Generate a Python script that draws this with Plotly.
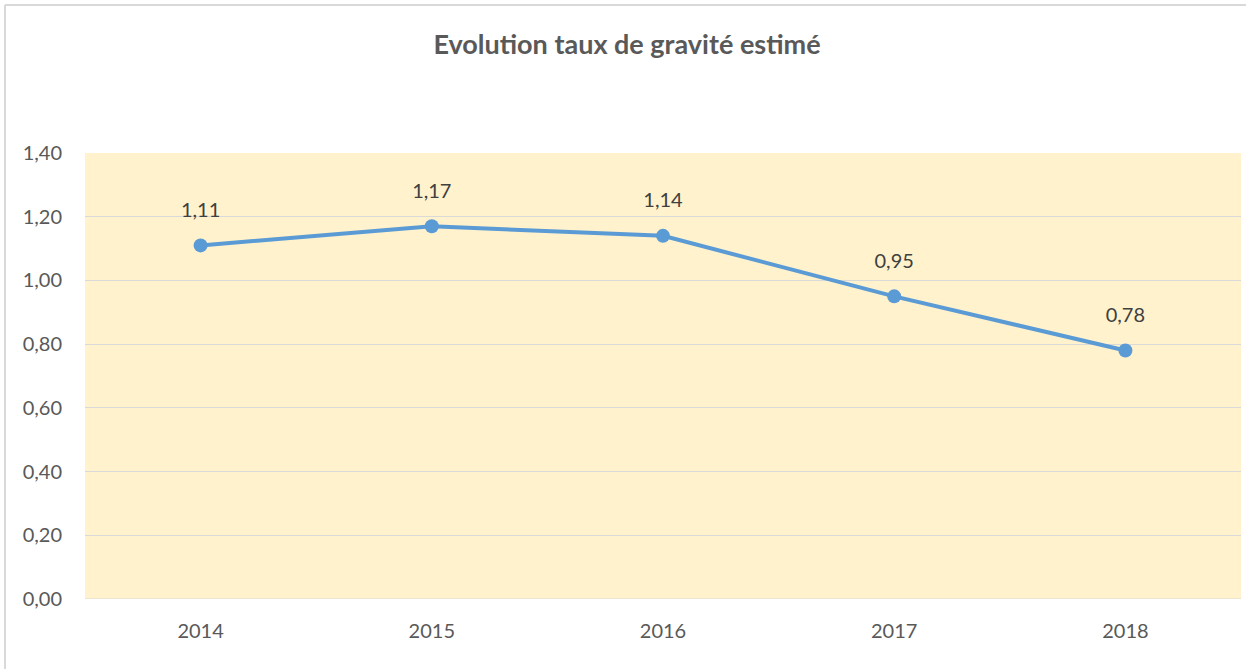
import plotly.graph_objects as go

years = ["2014", "2015", "2016", "2017", "2018"]
taux = [1.11, 1.17, 1.14, 0.95, 0.78]
labels = [f"{v:.2f}".replace(".", ",") for v in taux]
title_text = "Evolution taux de gravité estimé"

W, H = 1246, 669
L, R, T, B = 85, 5, 153, 70
pw, ph = W - L - R, H - T - B
FONT = "Lato, Calibri, sans-serif"

fig = go.Figure()
fig.add_trace(go.Scatter(
    x=years, y=taux, mode="lines+markers",
    line=dict(color="#5B9BD5", width=4),
    marker=dict(color="#5B9BD5", size=14),
    hoverinfo="x+y",
))
# data labels (transparent large markers push labels above the points)
fig.add_trace(go.Scatter(
    x=years, y=taux, mode="markers+text", text=labels,
    textposition="top center",
    textfont=dict(family=FONT, size=20, color="#404040"),
    marker=dict(size=36, opacity=0),
    hoverinfo="skip",
))

# border (top and left visible in the reference)
bx = (5 - L) / pw
by = 1 + (T - 5) / ph
byb = -(B + 5) / ph
fig.add_shape(type="line", xref="paper", yref="paper", x0=bx, x1=1.05, y0=by, y1=by,
              line=dict(color="#D9D9D9", width=2))
fig.add_shape(type="line", xref="paper", yref="paper", x0=bx, x1=bx, y0=byb, y1=by,
              line=dict(color="#D9D9D9", width=2))
fig.add_shape(type="line", xref="paper", yref="y", x0=0, x1=1, y0=0, y1=0,
              line=dict(color="#D9D9D9", width=1))

fig.update_layout(
    width=W, height=H,
    margin=dict(l=L, r=R, t=T, b=B),
    paper_bgcolor="white",
    plot_bgcolor="#FFF2CC",
    separators=", ",
    showlegend=False,
    title=dict(text=f"<b>{title_text}</b>", x=627 / W, xref="container", xanchor="center",
               y=1 - 45 / H, yref="container", yanchor="middle",
               font=dict(family=FONT, size=27, color="#595959")),
    font=dict(family=FONT, size=20, color="#595959"),
    xaxis=dict(type="category", range=[-0.5, 4.5], showgrid=False, zeroline=False,
               showline=False, ticks="", ticklabelstandoff=18,
               tickfont=dict(size=20, color="#595959")),
    yaxis=dict(range=[0, 1.4], dtick=0.2, tickformat=".2f", showgrid=True,
               gridcolor="#D9D9D9", gridwidth=1, zeroline=False, showline=False,
               ticks="", ticklabelstandoff=22,
               tickfont=dict(size=20, color="#595959")),
)

fig.write_html("out.html", config={"displayModeBar": False},
               post_script="document.body.style.margin='0';")
